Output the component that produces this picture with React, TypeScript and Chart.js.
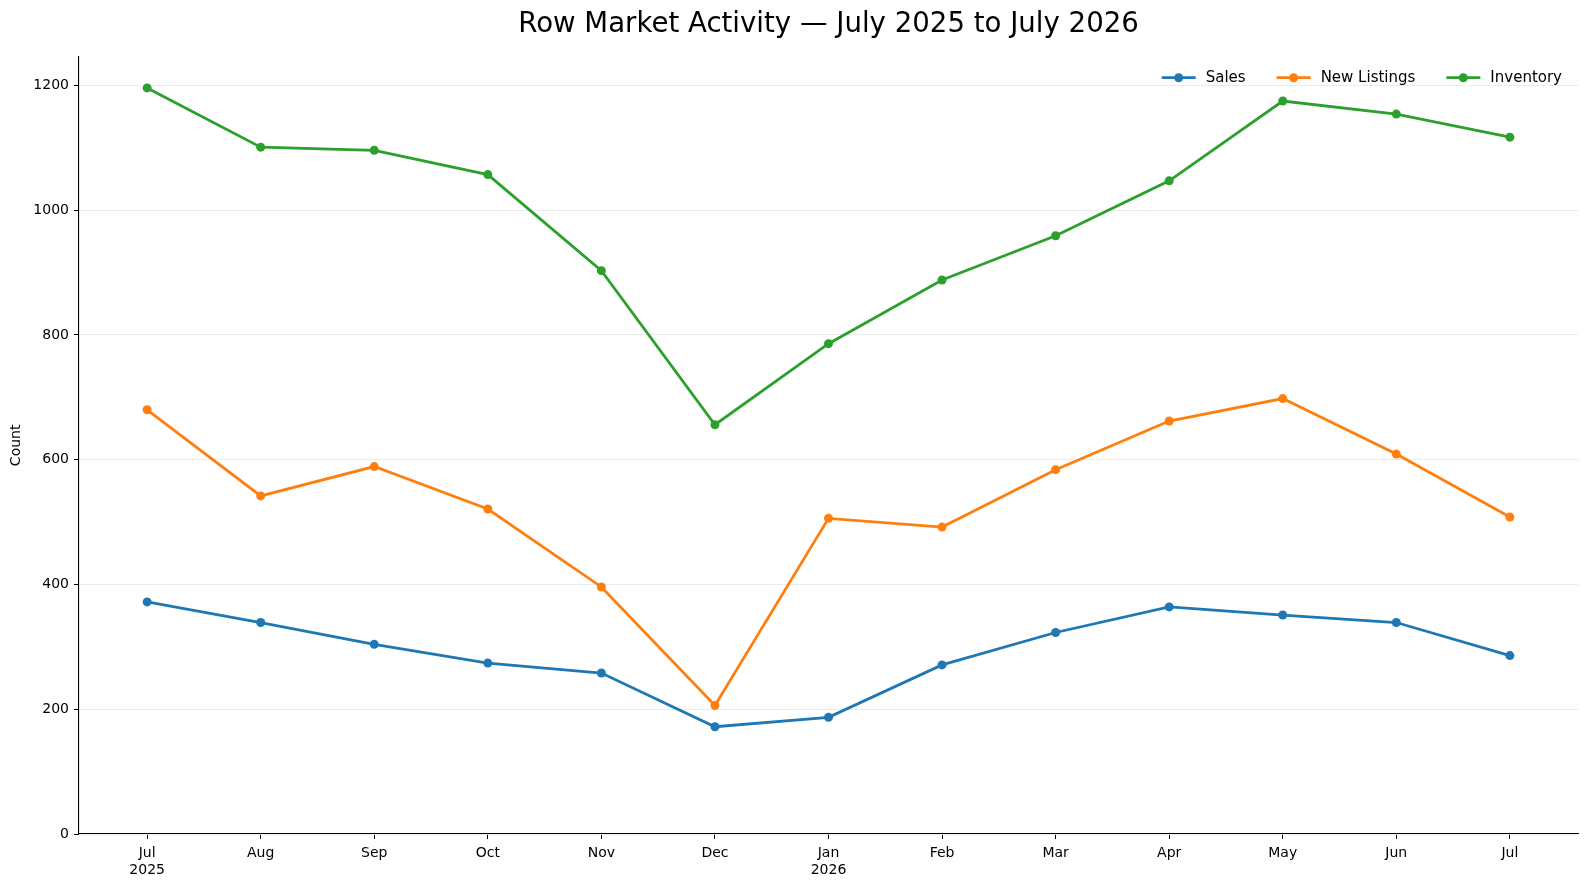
import React, { useEffect, useRef } from 'react'
import { Chart, registerables } from 'chart.js'

Chart.register(...registerables)

const monthLabels: (string | string[])[] = [
	['Jul', '2025'], 'Aug', 'Sep', 'Oct', 'Nov', 'Dec',
	['Jan', '2026'], 'Feb', 'Mar', 'Apr', 'May', 'Jun', 'Jul',
]
const sales = [372, 339, 304, 274, 258, 172, 187, 271, 323, 364, 351, 339, 286]
const newListings = [680, 542, 589, 521, 396, 206, 506, 492, 584, 662, 698, 609, 508]
const inventory = [1196, 1101, 1096, 1057, 903, 656, 786, 888, 959, 1047, 1175, 1154, 1117]
const yTicks = [0, 200, 400, 600, 800, 1000, 1200]

const seriesNames = ['Sales', 'New Listings', 'Inventory']
const seriesColors = ['#1f77b4', '#ff7f0e', '#2ca02c']
const chartTitle = 'Row Market Activity — July 2025 to July 2026'

const FONT = "'DejaVu Sans', sans-serif"

// title centred over the plot area (like matplotlib), not the canvas
const axesTitle = {
	id: 'axesTitle',
	afterDraw(chart: Chart) {
		const ctx = chart.ctx
		const area = chart.chartArea
		ctx.save()
		ctx.font = `27.6px ${FONT}`
		ctx.textAlign = 'center'
		ctx.textBaseline = 'alphabetic'
		ctx.fillStyle = '#000'
		ctx.fillText(chartTitle, (area.left + area.right) / 2, 32)
		ctx.restore()
	},
}

// matplotlib-ish legend drawn inside the plot, top right
const insideLegend = {
	id: 'insideLegend',
	afterDraw(chart: Chart) {
		const ctx = chart.ctx
		const area = chart.chartArea
		ctx.save()
		ctx.font = `15px ${FONT}`
		ctx.textBaseline = 'middle'
		ctx.fillStyle = '#000'
		const y = area.top + 21
		let x = area.right - 16
		const sets = chart.data.datasets
		for (let i = sets.length - 1; i >= 0; i--) {
			const ds: any = sets[i]
			const label = String(ds.label)
			const w = ctx.measureText(label).width
			const textX = x - w
			ctx.fillText(label, textX, y)
			const lineEnd = textX - 10
			const lineStart = lineEnd - 34
			ctx.strokeStyle = ds.borderColor
			ctx.lineWidth = 2.8
			ctx.beginPath()
			ctx.moveTo(lineStart, y)
			ctx.lineTo(lineEnd, y)
			ctx.stroke()
			ctx.fillStyle = ds.borderColor
			ctx.beginPath()
			ctx.arc((lineStart + lineEnd) / 2, y, 4.5, 0, Math.PI * 2)
			ctx.fill()
			ctx.fillStyle = '#000'
			x = lineStart - 31
		}
		ctx.restore()
	},
}

function MarketChart() {
	const ref = useRef<HTMLCanvasElement>(null)

	useEffect(() => {
		let chart: Chart | undefined
		if (ref.current) {
			Chart.defaults.font.family = FONT
			Chart.defaults.color = '#000'
			const seriesData = [sales, newListings, inventory]
			chart = new Chart(ref.current, {
				type: 'line',
				data: {
					datasets: seriesData.map((values, i) => ({
						label: seriesNames[i],
						data: values.map((v, j) => ({ x: j, y: v })),
						borderColor: seriesColors[i],
						backgroundColor: seriesColors[i],
						pointBackgroundColor: seriesColors[i],
						pointBorderWidth: 0,
						pointRadius: 4.5,
						borderWidth: 2.8,
						tension: 0,
					})),
				},
				options: {
					responsive: false,
					animation: false,
					layout: { padding: { left: 0, right: 9, top: 56.7, bottom: 0 } },
					plugins: {
						legend: { display: false },
						tooltip: { enabled: false },
						title: { display: false },
					},
					scales: {
						x: {
							type: 'linear',
							min: -0.6,
							max: 12.6,
							afterBuildTicks: (scale: any) => {
								scale.ticks = monthLabels.map((_, i) => ({ value: i }))
							},
							afterFit: (scale: any) => {
								scale.height = 52
							},
							ticks: {
								autoSkip: false,
								maxRotation: 0,
								padding: 6,
								font: { size: 14, family: FONT, lineHeight: 1.22 },
								color: '#000',
								callback: (v: any) => monthLabels[v as number] ?? '',
							},
							grid: {
								drawOnChartArea: false,
								drawTicks: true,
								tickLength: 5,
								tickColor: '#000',
								tickWidth: 1,
							},
							border: { color: '#000', width: 1.1 },
						},
						y: {
							min: 0,
							max: 1246,
							afterBuildTicks: (scale: any) => {
								scale.ticks = yTicks.map((v) => ({ value: v }))
							},
							afterFit: (scale: any) => {
								scale.width = 79
							},
							title: {
								display: true,
								text: 'Count',
								font: { size: 14, family: FONT },
								color: '#000',
								padding: { top: 8, bottom: 0 },
							},
							ticks: {
								padding: 5,
								font: { size: 14, family: FONT },
								color: '#000',
								callback: (v: any) => String(v),
							},
							grid: {
								color: '#e6e6e6',
								lineWidth: 0.8,
								tickLength: 5,
								tickColor: '#000',
								tickWidth: 1,
							},
							border: { color: '#000', width: 1.1 },
						},
					},
				},
				plugins: [axesTitle, insideLegend],
			})
		}
		return () => chart?.destroy()
	}, [])

	return <canvas ref={ref} width={1587} height={886} style={{ display: 'block' }} />
}

export default function App() {
	useEffect(() => {
		document.body.style.margin = '0'
	}, [])
	return (
		<div style={{ width: 1587, height: 886, background: '#fff' }}>
			<MarketChart />
		</div>
	)
}
